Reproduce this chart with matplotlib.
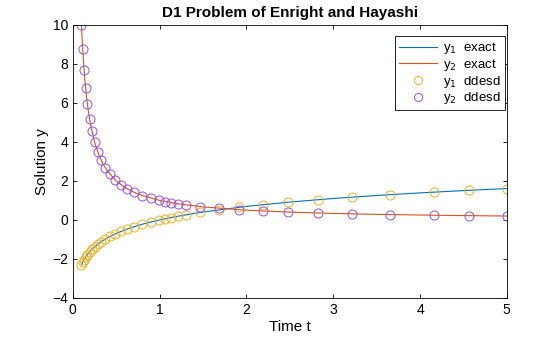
import matplotlib.pyplot as plt

plt.rcParams['font.family'] = ['Liberation Sans', 'DejaVu Sans']

# exact solution, sampled along t
t_exact = [0.10, 0.11, 0.12, 0.13, 0.14, 0.16, 0.18, 0.20, 0.25, 0.30, 0.35, 0.40,
           0.50, 0.60, 0.70, 0.80, 1.0, 1.2, 1.5, 2.0, 2.5, 3.0, 3.5, 4.0, 4.5, 5.0]
y1_exact = [-2.303, -2.207, -2.120, -2.040, -1.966, -1.833, -1.715, -1.609, -1.386,
            -1.204, -1.050, -0.916, -0.693, -0.511, -0.357, -0.223, 0.0, 0.182,
            0.405, 0.693, 0.916, 1.099, 1.253, 1.386, 1.504, 1.609]
y2_exact = [10.0, 9.091, 8.333, 7.692, 7.143, 6.25, 5.556, 5.0, 4.0, 3.333, 2.857,
            2.5, 2.0, 1.667, 1.429, 1.25, 1.0, 0.833, 0.667, 0.5, 0.4, 0.333, 0.286,
            0.25, 0.222, 0.2]

# ddesd solution points
t_dde = [0.10, 0.114, 0.13, 0.148, 0.169, 0.193, 0.22, 0.25, 0.286, 0.327, 0.373,
         0.43, 0.49, 0.56, 0.63, 0.71, 0.80, 0.90, 0.99, 1.06, 1.13, 1.21, 1.30,
         1.47, 1.69, 1.92, 2.19, 2.48, 2.83, 3.22, 3.66, 4.16, 4.57, 5.0]
y1_dde = [-2.30, -2.17, -2.04, -1.91, -1.78, -1.65, -1.51, -1.39, -1.25, -1.12,
          -0.99, -0.84, -0.71, -0.58, -0.46, -0.34, -0.22, -0.11, -0.01, 0.06, 0.12,
          0.19, 0.26, 0.39, 0.53, 0.66, 0.79, 0.91, 1.04, 1.17, 1.30, 1.43, 1.52, 1.61]
y2_dde = [10.0, 8.77, 7.69, 6.76, 5.92, 5.18, 4.55, 4.00, 3.50, 3.06, 2.68, 2.33,
          2.04, 1.79, 1.59, 1.41, 1.25, 1.11, 1.01, 0.94, 0.88, 0.83, 0.77, 0.68,
          0.59, 0.52, 0.46, 0.40, 0.35, 0.31, 0.27, 0.24, 0.22, 0.20]

fig = plt.figure(figsize=(5.6, 3.37), dpi=100)
ax = fig.add_axes([0.130, 0.116, 0.775, 0.810])

ax.plot(t_exact, y1_exact, color='#0072BD', lw=0.8, label='y$_1$  exact')
ax.plot(t_exact, y2_exact, color='#D95319', lw=0.8, label='y$_2$  exact')
ax.plot(t_dde, y1_dde, 'o', mfc='none', mec='#EDB120', ms=6.5, mew=0.7,
        label='y$_1$  ddesd')
ax.plot(t_dde, y2_dde, 'o', mfc='none', mec='#9B4FE0', ms=6.5, mew=0.7,
        label='y$_2$  ddesd')

ax.set_xlim(0, 5)
ax.set_ylim(-4, 10)
ax.set_yticks(range(-4, 11, 2))
ax.tick_params(direction='in', top=True, right=True, labelsize=10, length=3, width=0.6)
for s in ax.spines.values():
    s.set_linewidth(0.6)

ax.set_title('D1 Problem of Enright and Hayashi', fontsize=11, fontweight='bold')
ax.set_xlabel('Time t', fontsize=11, labelpad=2)
ax.set_ylabel('Solution y', fontsize=11, labelpad=2)

leg = ax.legend(loc='upper right', bbox_to_anchor=(0.996, 0.958), fontsize=9.5,
                fancybox=False, framealpha=1, edgecolor='black', handlelength=2.9,
                borderaxespad=0, borderpad=0.3, labelspacing=0.05,
                handletextpad=0.5, markerscale=0.9)
leg.get_frame().set_linewidth(0.6)

fig.savefig('out.png', dpi=100)
